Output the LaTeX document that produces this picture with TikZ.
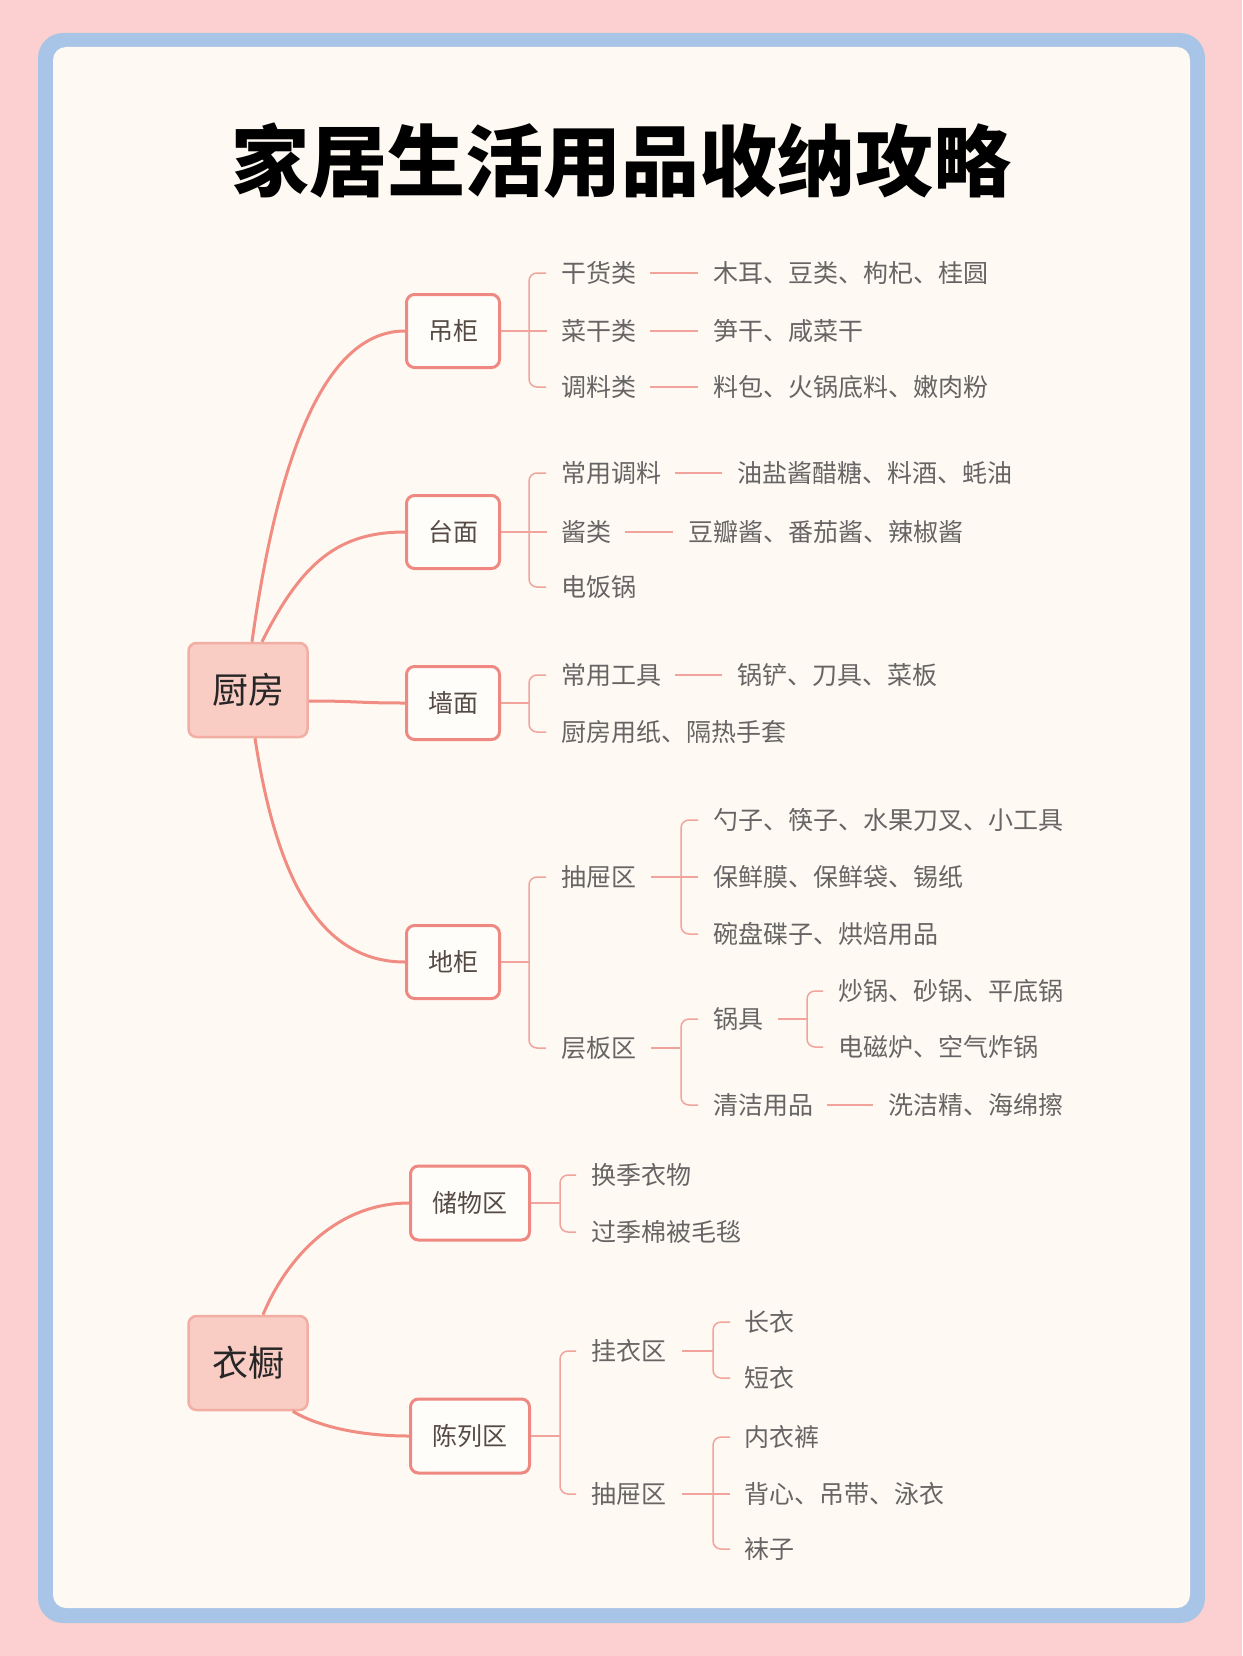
\documentclass[tikz,border=0pt]{standalone}
\usepackage{fontspec}
\setmainfont{Noto Sans CJK SC}
\usetikzlibrary{positioning, calc}
\definecolor{bgPink}{HTML}{FCD0D0}
\definecolor{frameBlue}{HTML}{A8C4E6}
\definecolor{paperCream}{HTML}{FEFAF3}
\definecolor{lineRose}{HTML}{F08C82}
\definecolor{twigRose}{HTML}{F0A49C}
\definecolor{roomFill}{HTML}{F9CCC4}
\definecolor{roomDraw}{HTML}{F3AEA4}
\definecolor{zoneDraw}{HTML}{EE8880}
\definecolor{zoneText}{HTML}{554B44}
\definecolor{itemText}{HTML}{666464}
\tikzset{
    font=\fontsize{25}{30}\selectfont,
    % Boxes
    room/.style={rectangle, draw=roomDraw, fill=roomFill, line width=2.5pt, rounded corners=8pt,
                 minimum width=119pt, minimum height=94pt, inner sep=0pt,
                 font=\fontsize{36}{40}\selectfont, text=black!85},
    zone/.style={rectangle, draw=zoneDraw, fill=white!60!paperCream, line width=3pt, rounded corners=8pt,
                 minimum width=93pt, minimum height=73pt, inner sep=0pt, text=zoneText},
    item/.style={anchor=west, inner sep=0pt, text=itemText},
    title/.style={font=\fontsize{78}{88}\selectfont\bfseries, text=black},
    % Lines
    flow/.style={line width=3pt, lineRose},
    twig/.style={line width=1.5pt, twigRose},
    tie/.style={twig, shorten <=14pt, shorten >=15pt}
}
\begin{document}
\begin{tikzpicture}[x=1pt, y=-1pt]

% Background & frame
\useasboundingbox (0,0) rectangle (1242,1656);
\fill[bgPink] (0,0) rectangle (1242,1656);
\fill[frameBlue, rounded corners=25pt] (38,33) rectangle (1205,1623);
\fill[paperCream, rounded corners=13pt] (53,47) rectangle (1190,1608);

\node[title] (title) at (621,161) {家居生活用品收纳攻略};

% Kitchen
\node[room] (kitchen) at (248,690) {厨房};
\node[zone] (hanging) at (453,331) {吊柜};
\node[zone] (counter) at (453,532) {台面};
\node[zone] (wall) at (453,703) {墙面};
\node[zone] (base) at (453,962) {地柜};

\draw[flow] ([xshift=4pt]kitchen.north) .. controls +(28,-200) and +(-76,0) .. (hanging.west);
\draw[flow] ([xshift=14pt]kitchen.north) .. controls +(40,-80) and +(-66,0) .. (counter.west);
\draw[flow] ([yshift=-11pt]kitchen.east) .. controls +(50,0) and +(-50,0) .. (wall.west);
\draw[flow] ([xshift=7pt]kitchen.south) .. controls +(20,130) and +(-90,0) .. (base.west);

% Hanging cabinet
\node[item] (dry) at (561,273) {干货类};
\node[item] (dryx) at (713,273) {木耳、豆类、枸杞、桂圆};
\node[item] (veg) at (561,331) {菜干类};
\node[item] (vegx) at (713,331) {笋干、咸菜干};
\node[item] (spice) at (561,387) {调料类};
\node[item] (spicex) at (713,387) {料包、火锅底料、嫩肉粉};
\draw[twig, shorten >=14pt] (hanging) -- (veg);
\draw[twig, rounded corners=8pt] ([xshift=-15pt]dry.west) -- ++(-17,0) |- ([xshift=-15pt]spice.west);
\draw[tie] (dry) -- (dryx);
\draw[tie] (veg) -- (vegx);
\draw[tie] (spice) -- (spicex);

% Counter
\node[item] (daily) at (561,473) {常用调料};
\node[item] (dailyx) at (737,473) {油盐酱醋糖、料酒、蚝油};
\node[item] (sauce) at (561,532) {酱类};
\node[item] (saucex) at (688,532) {豆瓣酱、番茄酱、辣椒酱};
\node[item] (cooker) at (561,587) {电饭锅};
\draw[twig, shorten >=14pt] (counter) -- (sauce);
\draw[twig, rounded corners=8pt] ([xshift=-15pt]daily.west) -- ++(-17,0) |- ([xshift=-15pt]cooker.west);
\draw[tie] (daily) -- (dailyx);
\draw[tie] (sauce) -- (saucex);

% Wall
\node[item] (tools) at (561,675) {常用工具};
\node[item] (toolsx) at (737,675) {锅铲、刀具、菜板};
\node[item] (towel) at (561,732) {厨房用纸、隔热手套};
\draw[twig] (wall.east) -- ([xshift=-32pt]tools.west |- wall.east);
\draw[twig, rounded corners=8pt] ([xshift=-15pt]tools.west) -- ++(-17,0) |- ([xshift=-15pt]towel.west);
\draw[tie] (tools) -- (toolsx);

% Base cabinet
\node[item] (drawer) at (561,877) {抽屉区};
\node[item] (shelf) at (561,1048) {层板区};
\draw[twig] (base.east) -- ([xshift=-32pt]drawer.west |- base.east);
\draw[twig, rounded corners=8pt] ([xshift=-15pt]drawer.west) -- ++(-17,0) |- ([xshift=-15pt]shelf.west);

\node[item] (spoon) at (713,820) {勺子、筷子、水果刀叉、小工具};
\node[item] (wrap) at (713,877) {保鲜膜、保鲜袋、锡纸};
\node[item] (bowl) at (713,934) {碗盘碟子、烘焙用品};
\draw[twig, shorten <=15pt, shorten >=15pt] (drawer) -- (wrap);
\draw[twig, rounded corners=8pt] ([xshift=-15pt]spoon.west) -- ++(-17,0) |- ([xshift=-15pt]bowl.west);

\node[item] (pots) at (713,1019) {锅具};
\node[item] (clean) at (713,1105) {清洁用品};
\node[item] (cleanx) at (888,1105) {洗洁精、海绵擦};
\draw[twig, shorten <=15pt] (shelf.east) -- ([xshift=-33pt]pots.west |- shelf.east);
\draw[twig, rounded corners=8pt] ([xshift=-15pt]pots.west) -- ++(-17,0) |- ([xshift=-15pt]clean.west);
\draw[tie] (clean) -- (cleanx);

\node[item] (wok) at (838,991) {炒锅、砂锅、平底锅};
\node[item] (stove) at (838,1047) {电磁炉、空气炸锅};
\draw[twig, shorten <=15pt] (pots.east) -- ([xshift=-31pt]wok.west |- pots.east);
\draw[twig, rounded corners=8pt] ([xshift=-15pt]wok.west) -- ++(-16,0) |- ([xshift=-15pt]stove.west);

% Wardrobe
\node[room] (wardrobe) at (248,1363) {衣橱};
\node[zone, minimum width=119pt, minimum height=74pt] (storage) at (470,1203) {储物区};
\node[zone, minimum width=119pt, minimum height=74pt] (display) at (470,1436) {陈列区};

\draw[flow] ([xshift=15pt]wardrobe.north) .. controls +(25,-60) and +(-70,0) .. (storage.west);
\draw[flow] ([xshift=-16pt]wardrobe.south east) .. controls +(25,15) and +(-50,0) .. (display.west);

\node[item] (season) at (591,1175) {换季衣物};
\node[item] (quilt) at (591,1232) {过季棉被毛毯};
\draw[twig] (storage.east) -- ([xshift=-31pt]season.west |- storage.east);
\draw[twig, rounded corners=8pt] ([xshift=-15pt]season.west) -- ++(-16,0) |- ([xshift=-15pt]quilt.west);

\node[item] (hang) at (591,1351) {挂衣区};
\node[item] (drawertwo) at (591,1494) {抽屉区};
\draw[twig] (display.east) -- ([xshift=-31pt]hang.west |- display.east);
\draw[twig, rounded corners=8pt] ([xshift=-15pt]hang.west) -- ++(-16,0) |- ([xshift=-15pt]drawertwo.west);

\node[item] (long) at (744,1322) {长衣};
\node[item] (short) at (744,1378) {短衣};
\draw[twig, shorten <=16pt] (hang.east) -- ([xshift=-31pt]long.west |- hang.east);
\draw[twig, rounded corners=8pt] ([xshift=-14pt]long.west) -- ++(-17,0) |- ([xshift=-14pt]short.west);

\node[item] (under) at (744,1437) {内衣裤};
\node[item] (vest) at (744,1494) {背心、吊带、泳衣};
\node[item] (socks) at (744,1549) {袜子};
\draw[twig, shorten <=16pt, shorten >=14pt] (drawertwo) -- (vest);
\draw[twig, rounded corners=8pt] ([xshift=-14pt]under.west) -- ++(-17,0) |- ([xshift=-14pt]socks.west);

\end{tikzpicture}
\end{document}
